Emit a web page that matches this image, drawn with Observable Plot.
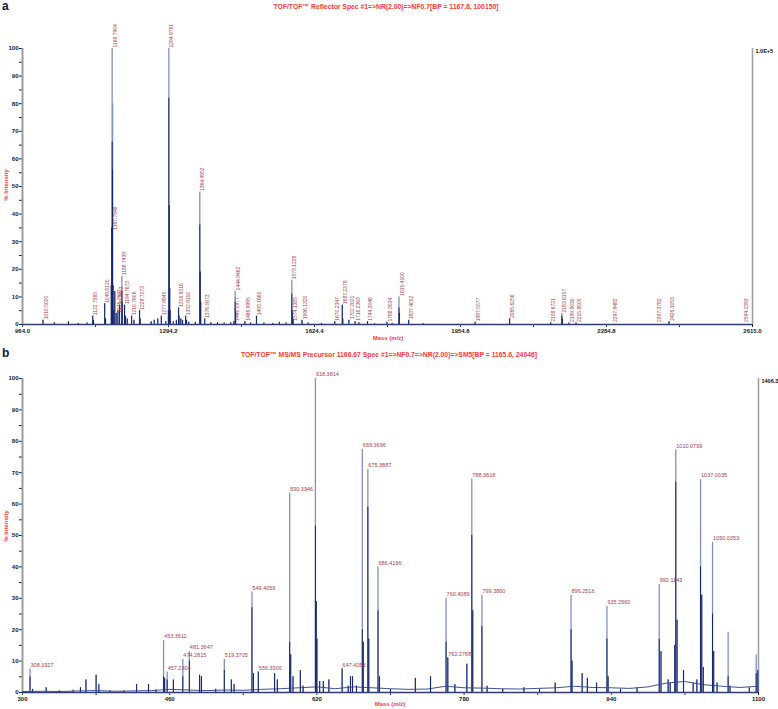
<!DOCTYPE html>
<html><head><meta charset="utf-8">
<script src="https://cdn.jsdelivr.net/npm/d3@7"></script>
<script src="https://cdn.jsdelivr.net/npm/@observablehq/plot@0.6"></script>
<style>
body{margin:0;background:#fff;}
#root{position:relative;width:778px;height:709px;overflow:hidden;font-family:"Liberation Sans",Arial,sans-serif;}
.abs{position:absolute;white-space:nowrap;line-height:1;}
.panel{font-weight:bold;font-size:12px;color:#14163a;}
.title{color:#ff3838;font-weight:bold;font-size:6.8px;transform:translate(-50%,-50%);}
.axl{color:#ff3838;font-weight:bold;font-size:6px;transform:translate(-50%,-50%);}
.axly{color:#ff3838;font-weight:bold;font-size:6px;transform:translate(-50%,-50%) rotate(-90deg);}
.chart{position:absolute;left:0;}
</style></head><body><div id="root"></div>
<script>
// ---------- Panel a data ----------
const titleA = "TOF/TOF\u2122 Reflector Spec #1=>NR(2.00)=>NF0.7[BP = 1167.8, 100150]";
const rightLabelA = ["1.0E+5"];
const xTicksA = [964.0, 1129.1, 1294.2, 1459.3, 1624.4, 1789.5, 1954.6, 2119.7, 2284.8, 2449.9, 2615.0];
const xTickLabelsA = ["964.0", "", "1294.2", "", "1624.4", "", "1954.6", "", "2284.8", "", "2615.0"];
// [m/z, % intensity, dark core height]
const peaksA = [
  [1010.50,1.5,1.5],[1036,0.6,0.6],[1068,1.0,1.0],[1090,0.4,0.4],[1110,0.5,0.5],[1122.76,3,3],[1124.5,1.5,1.5],
  [1149.81,7.5,7.5],[1151.8,2,2],[1164.8,14,14],[1165.79,35,35],[1166.79,100,66],[1167.78,80,56],[1168.79,14,14],
  [1170.5,5,5],[1172.7,12,12],[1175.77,4,4],[1179.77,5,5],[1183.5,7,7],[1188.74,17.5,12],[1189.74,8,8],[1194.77,7,7],
  [1197,3,3],[1201,2,2],[1210.76,3,3],[1216,1.5,1.5],[1228.73,5,5],[1230,2,2],[1255,1,1],[1262,1.5,1.5],[1270,2,2],
  [1277.98,3,3],[1288,1,1],[1293.98,5,5],[1294.98,100,82],[1295.98,43,43],[1296.98,13,13],[1298,5,5],[1305,1,1],
  [1312,1.5,1.5],[1316.93,6,6],[1318,3,3],[1322,2,2],[1326,1.5,1.5],[1332.91,3,3],[1335,1.5,1.5],[1340,0.8,0.8],
  [1355,0.8,0.8],[1364.99,48,36],[1366,19,19],[1367,8,8],[1376.07,2,2],[1390,0.6,0.6],[1405,0.6,0.6],[1420,0.5,0.5],
  [1435,0.6,0.6],[1442.10,1,1],[1444.95,12,8],[1446,5,5],[1466.99,1,1],[1480,0.5,0.5],[1493.17,3,3],[1510,0.5,0.5],
  [1530,0.4,0.4],[1545,0.8,0.8],[1560,0.5,0.5],[1573.12,16,11],[1574.14,5,5],[1576,2,2],[1596.13,1.5,1.5],
  [1610,0.5,0.5],[1640,0.4,0.4],[1670.23,1,1],[1687.24,7,7],[1688.3,2,2],[1702.20,1.5,1.5],[1716.24,1,1],
  [1725,0.6,0.6],[1744.30,1,1],[1760,0.3,0.3],[1788.30,0.7,0.7],[1800,0.4,0.4],[1815.41,10,6],[1816.4,4,4],
  [1837.41,1.5,1.5],[1870,0.3,0.3],[1987.56,0.8,0.8],[2065.63,2,2],[2158.67,0.6,0.6],[2183.82,4,3],[2185,2,2],
  [2199.80,0.5,0.5],[2215.80,0.5,0.5],[2426.11,1,1]
];
// [label text, % intensity at which the label sits]
const labelsA = [
  ["1010.5020",1.5],["1122.7565",3],["1149.8120",7.5],["1166.7904",100],["1167.7848",34],["1175.7697",4],
  ["1179.7653",5],["1188.7439",17.5],["1194.7673",7],["1210.7606",3],["1228.7273",5],["1277.9845",3],
  ["1294.9761",100],["1316.9316",6],["1332.9110",3],["1364.9952",48],["1376.0673",2],["1442.0977",1],
  ["1444.9462",12],["1466.9995",1],["1493.1660",3],["1573.1228",16],["1574.1385",1],["1596.1320",1.5],
  ["1670.2347",1],["1687.2379",7],["1702.2021",1.5],["1716.2363",1],["1744.3046",1],["1788.3024",0.7],
  ["1815.4100",10],["1837.4052",1.5],["1987.5577",0.8],["2065.6256",2],["2158.6721",0.6],["2183.8157",4],
  ["2199.8030",0.5],["2215.8005",0.5],["2297.9482",0.5],["2397.3782",0.5],["2426.1053",1],["2594.2393",0.5]
];

// ---------- Panel b data ----------
const titleB = "TOF/TOF\u2122 MS/MS Precursor 1166.67 Spec #1=>NF0.7=>NR(2.00)=>SM5[BP = 1165.6, 24046]";
const rightLabelB = ["1406.3"];
const xTicksB = [300, 380, 460, 540, 620, 700, 780, 860, 940, 1020, 1100];
const xTickLabelsB = ["300", "", "460", "", "620", "", "780", "", "940", "", "1100"];
const peaksB = [
  [308.19,7.5,5],[311,1,1],[325.7,1.5,1.5],[340,0.5,0.5],[355,0.7,0.7],[363,1.5,1.5],[369,4,4],[380,5.5,5.5],
  [383,2.5,2.5],[395,0.5,0.5],[410,0.5,0.5],[424,2.5,2.5],[437,2.5,2.5],[445,0.8,0.8],[453.36,16.5,5],[454.5,4.5,4.5],
  [457.23,6.5,4],[464,4,4],[474.28,10.5,5],[481.36,13,10],[492.5,5.5,5.5],[494.5,5,5],[510,1,1],[519.37,10.5,7],
  [527,4,4],[530,2.5,2.5],[549.41,32,27],[551,6,6],[556.33,6.5,6.5],[574,6,6],[577,4,4],[590.39,63.5,16],
  [591.5,12,12],[594,5,5],[602,7,7],[605,2,2],[618.38,100,53],[619.3,29,29],[620,17,17],[623,3.5,3.5],[627,3.5,3.5],
  [633,4,4],[647.41,7.5,7.5],[654,2,2],[656.5,5,5],[658.7,5,5],[663,2,2],[669.37,77.5,20],[670.4,16,16],
  [675.39,71,59],[676.4,17,17],[686.42,40,26],[688,5,5],[700,1,1],[727,4.5,4.5],[743.5,5,5],[760.41,30,16],
  [762.28,11,11],[770,2.5,2.5],[783,9,9],[788.38,68,50],[789.4,26,26],[799.39,31,21],[805,2,2],[822,1,1],
  [845,1.5,1.5],[862,1,1],[879,3,3],[896.25,31,20],[897.3,10,10],[908.3,6,6],[914,4.5,4.5],[924,3,3],
  [935.26,27.4,17],[936.5,5,5],[950,1,1],[968,1.5,1.5],[992.11,34.4,17],[994,13,13],[1001.8,4,4],[1004,3,3],
  [1009,15,15],[1010.08,77.3,67],[1011.5,23,23],[1018.5,7,7],[1029,3,3],[1033,4,4],[1037.00,67.8,40],
  [1038.3,31,31],[1040,8,8],[1050.04,47.8,25],[1051.3,13,13],[1055,3,3],[1067,19.2,5],[1069,2,2],[1090,1.5,1.5],
  [1097.5,12,6],[1099.3,7,7]
];
const labelsB = [
  ["308.1927",7.5],["453.3611",16.5],["457.2304",6.5],["474.2815",10.5],["481.3647",13],["519.3705",10.5],
  ["549.4059",32],["556.3306",6.5],["590.3946",63.5],["618.3814",100],["647.4053",7.5],["669.3696",77.5],
  ["675.3887",71],["686.4196",40],["760.4089",30],["762.2788",11],["788.3818",68],["799.3860",31],
  ["896.2516",31],["935.2560",27.4],["992.1143",34.4],["1010.0799",77.3],["1037.0035",67.8],["1050.0353",47.8]
];
// baseline noise of the profile spectrum [m/z, %]
const baselineB = [
  [300,0.3],[320,0.4],[340,0.3],[360,0.5],[380,0.6],[400,0.4],[420,0.5],[440,0.6],[460,1.0],[480,0.8],[500,0.6],
  [520,0.8],[540,0.7],[560,1.0],[580,1.2],[600,1.5],[620,1.8],[640,1.2],[660,1.8],[680,1.5],[700,1.2],[720,1.0],
  [740,1.1],[760,2.0],[780,1.5],[800,1.4],[820,1.2],[840,1.1],[860,1.3],[880,1.5],[900,2.0],[920,1.6],[940,1.5],
  [960,1.3],[980,1.8],[1000,3.0],[1020,3.5],[1040,2.5],[1060,2.0],[1080,1.6],[1100,2.0]
];

const yTicks = [0,5,10,15,20,25,30,35,40,45,50,55,60,65,70,75,80,85,90,95,100];
const yTickLabels = ["0","","10","","20","","30","","40","","50","","60","","70","","80","","90","","100"];

const axisLabelX = "Mass (m/z)";
const axisLabelY = "% Intensity";

// ---------- styles ----------
const LIGHT = "#8090c4", DARK = "#15256a", AXIS = "#9c9c9c", PEAKLBL = "#a8424c";

function fmtFrom(ticks, labels) {
  const m = new Map(ticks.map((t, i) => [t, labels[i]]));
  return d => m.get(d) ?? "";
}

function spectrum(cfg) {
  const peaks = cfg.peaks.map(([mz, int, core]) => ({mz, int, core}));
  const labels = cfg.labels.map(([t, y]) => ({t, mz: +t, y}));
  const marks = [
    Plot.ruleX([cfg.domain[0]], {stroke: AXIS, strokeWidth: 2}),
    Plot.ruleX([cfg.domain[1]], {stroke: AXIS, strokeWidth: 1.5}),
    Plot.ruleY([0], {stroke: AXIS, strokeWidth: 2}),
    Plot.ruleY([0], {stroke: DARK, strokeWidth: 0.8})
  ];
  if (cfg.baseline) marks.push(Plot.line(cfg.baseline.map(([mz, v]) => ({mz, v})), {x: "mz", y: "v", stroke: "#2a3c88", strokeWidth: 0.9}));
  marks.push(
    Plot.ruleX(peaks, {x: "mz", y1: 0, y2: "int", stroke: LIGHT, strokeWidth: 1.3}),
    Plot.ruleX(peaks, {x: "mz", y1: 0, y2: "core", stroke: DARK, strokeWidth: 1}),
    cfg.rotateLabels
      ? Plot.text(labels, {x: "mz", y: "y", text: "t", rotate: -90, textAnchor: "start", dx: 3, dy: -1, fill: PEAKLBL, fontSize: 5, fontWeight: "normal"})
      : Plot.text(labels, {x: "mz", y: "y", text: "t", textAnchor: "start", dx: 0.5, dy: -4, fill: PEAKLBL, fontSize: 5.5, fontWeight: "normal"}),
    Plot.text(cfg.rightLabel, {x: () => cfg.domain[1], y: () => 100, text: d => d, textAnchor: "start", dx: 3, dy: 3, fill: "#111", fontSize: 5.5, fontWeight: "bold"})
  );
  return Plot.plot({
    width: 778, height: cfg.height,
    marginLeft: 22, marginRight: cfg.marginRight, marginTop: cfg.marginTop, marginBottom: cfg.marginBottom,
    style: {fontSize: "6px", fontWeight: "bold", fontFamily: "Liberation Sans, Arial, sans-serif", color: "#222", background: "transparent", overflow: "visible"},
    x: {domain: cfg.domain, ticks: cfg.xTicks, tickFormat: fmtFrom(cfg.xTicks, cfg.xTickLabels), tickSize: 3, tickPadding: 1, label: null},
    y: {domain: [0, 100], ticks: yTicks, tickFormat: fmtFrom(yTicks, yTickLabels), tickSize: 3, tickPadding: 1, label: null},
    marks
  });
}

const root = document.getElementById("root");
function addDiv(cls, text, left, top) {
  const d = document.createElement("div");
  d.className = "abs " + cls; d.textContent = text;
  d.style.left = left + "px"; d.style.top = top + "px";
  root.appendChild(d); return d;
}

const chartA = spectrum({peaks: peaksA, labels: labelsA, domain: [964.0, 2615.0], xTicks: xTicksA, xTickLabels: xTickLabelsA,
  rightLabel: rightLabelA, rotateLabels: true, height: 345, marginTop: 48, marginBottom: 21, marginRight: 26});
chartA.classList.add("chart"); chartA.style.top = "0px";
root.appendChild(chartA);

const chartB = spectrum({peaks: peaksB, labels: labelsB, baseline: baselineB, domain: [300, 1100], xTicks: xTicksB, xTickLabels: xTickLabelsB,
  rightLabel: rightLabelB, rotateLabels: false, height: 364, marginTop: 33, marginBottom: 17, marginRight: 20});
chartB.classList.add("chart"); chartB.style.top = "345px";
root.appendChild(chartB);

addDiv("panel", "a", 2, 0);
addDiv("panel", "b", 2, 347);
addDiv("title", titleA, 386, 7);
addDiv("title", titleB, 389, 355);
addDiv("axl", axisLabelX, 388, 338);
addDiv("axl", axisLabelX, 390, 704);
addDiv("axly", axisLabelY, 6, 185);
addDiv("axly", axisLabelY, 6, 526);
</script></body></html>
